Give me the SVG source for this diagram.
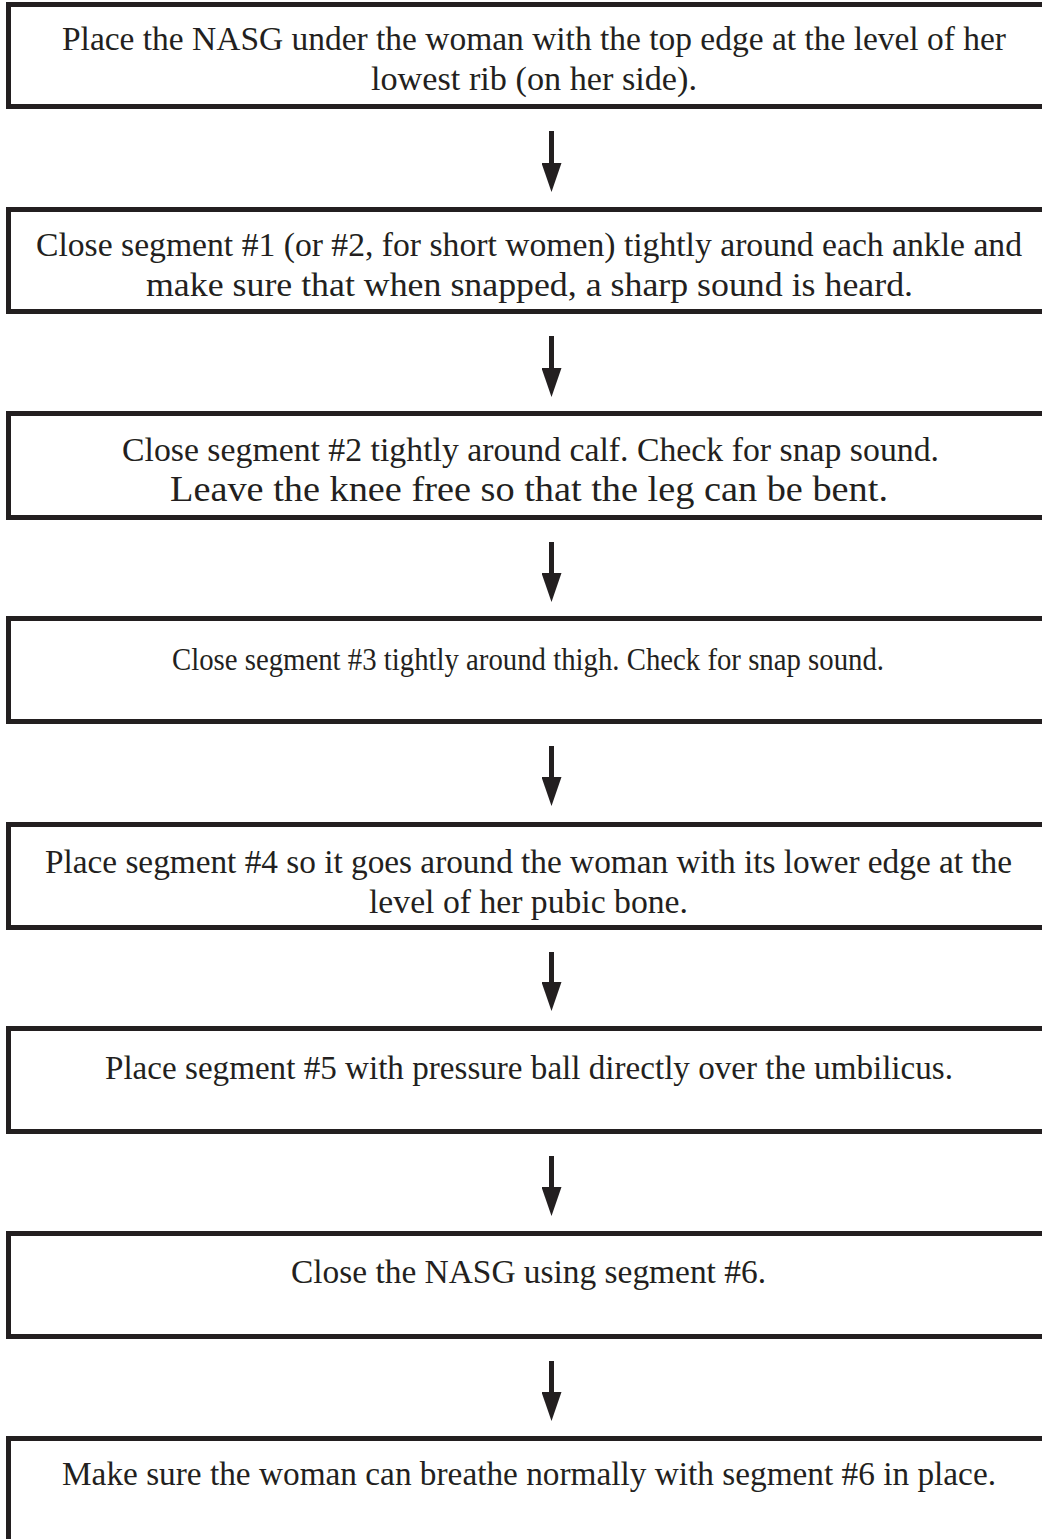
<svg xmlns="http://www.w3.org/2000/svg" width="1042" height="1539" viewBox="0 0 1042 1539">
<style>
.box{fill:#fff;stroke:#231f20;stroke-width:5}
.t{font-family:"Liberation Serif","Times New Roman",serif;font-size:34px;fill:#231f20;text-anchor:middle}
.ar{stroke:#231f20;stroke-width:5;fill:none}
</style>
<defs>
<marker id="ah" markerUnits="userSpaceOnUse" markerWidth="30" markerHeight="20" refX="0" refY="10" orient="auto" viewBox="0 0 30 20">
<path d="M0,0 L29,10 L0,20 z" fill="#231f20"/>
</marker>
</defs>
<rect width="1042" height="1539" fill="#fff"/>
<g id="connectors">
<line class="ar" x1="551.5" y1="131" x2="551.5" y2="163" marker-end="url(#ah)"/>
<line class="ar" x1="551.5" y1="336" x2="551.5" y2="368" marker-end="url(#ah)"/>
<line class="ar" x1="551.5" y1="542" x2="551.5" y2="573" marker-end="url(#ah)"/>
<line class="ar" x1="551.5" y1="746" x2="551.5" y2="777" marker-end="url(#ah)"/>
<line class="ar" x1="551.5" y1="952" x2="551.5" y2="982" marker-end="url(#ah)"/>
<line class="ar" x1="551.5" y1="1156" x2="551.5" y2="1187" marker-end="url(#ah)"/>
<line class="ar" x1="551.5" y1="1361" x2="551.5" y2="1392" marker-end="url(#ah)"/>
</g>
<g id="n1"><rect class="box" x="8.5" y="4.5" width="1050" height="102"/>
<text class="t" x="534" y="50" textLength="944" lengthAdjust="spacingAndGlyphs">Place the NASG under the woman with the top edge at the level of her</text>
<text class="t" x="534" y="90" textLength="326" lengthAdjust="spacingAndGlyphs">lowest rib (on her side).</text></g>
<g id="n2"><rect class="box" x="8.5" y="209.5" width="1050" height="102"/>
<text class="t" x="529" y="256" textLength="986" lengthAdjust="spacingAndGlyphs">Close segment #1 (or #2, for short women) tightly around each ankle and</text>
<text class="t" x="529.5" y="296" textLength="767" lengthAdjust="spacingAndGlyphs">make sure that when snapped, a sharp sound is heard.</text></g>
<g id="n3"><rect class="box" x="8.5" y="413.5" width="1050" height="104"/>
<text class="t" x="530.5" y="461" textLength="817" lengthAdjust="spacingAndGlyphs">Close segment #2 tightly around calf. Check for snap sound.</text>
<text class="t" x="529" y="501" style="font-size:36px" textLength="718" lengthAdjust="spacingAndGlyphs">Leave the knee free so that the leg can be bent.</text></g>
<g id="n4"><rect class="box" x="8.5" y="618.5" width="1050" height="103"/>
<text class="t" x="528" y="670" style="font-size:31px" textLength="712" lengthAdjust="spacingAndGlyphs">Close segment #3 tightly around thigh. Check for snap sound.</text></g>
<g id="n5"><rect class="box" x="8.5" y="824.5" width="1050" height="103"/>
<text class="t" x="528.5" y="873" textLength="967" lengthAdjust="spacingAndGlyphs">Place segment #4 so it goes around the woman with its lower edge at the</text>
<text class="t" x="528.5" y="913" textLength="319" lengthAdjust="spacingAndGlyphs">level of her pubic bone.</text></g>
<g id="n6"><rect class="box" x="8.5" y="1028.5" width="1050" height="103"/>
<text class="t" x="529" y="1079" textLength="848" lengthAdjust="spacingAndGlyphs">Place segment #5 with pressure ball directly over the umbilicus.</text></g>
<g id="n7"><rect class="box" x="8.5" y="1233.5" width="1050" height="103"/>
<text class="t" x="528.5" y="1283" textLength="475" lengthAdjust="spacingAndGlyphs">Close the NASG using segment #6.</text></g>
<g id="n8"><rect class="box" x="8.5" y="1438.5" width="1050" height="160"/>
<text class="t" x="529" y="1485" textLength="934" lengthAdjust="spacingAndGlyphs">Make sure the woman can breathe normally with segment #6 in place.</text></g>
</svg>
